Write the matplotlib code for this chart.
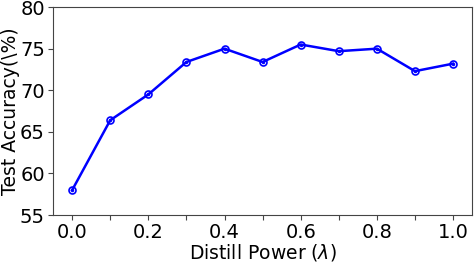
import matplotlib
matplotlib.use("Agg")
import matplotlib.pyplot as plt

distill_power = [0.0, 0.1, 0.2, 0.3, 0.4, 0.5, 0.6, 0.7, 0.8, 0.9, 1.0]
test_accuracy = [58.0, 66.4, 69.5, 73.4, 75.0, 73.4, 75.5, 74.7, 75.0, 72.3, 73.2]
xtick_pos = [0.0, 0.1, 0.2, 0.3, 0.4, 0.5, 0.6, 0.7, 0.8, 0.9, 1.0]
xtick_labels = ["0.0", "", "0.2", "", "0.4", "", "0.6", "", "0.8", "", "1.0"]
ytick_pos = [55, 60, 65, 70, 75, 80]

fig = plt.figure(figsize=(4.74, 2.62), dpi=100)
ax = fig.add_axes([0.112, 0.179, 0.884, 0.794])
ax.plot(distill_power, test_accuracy, color="blue", linewidth=1.8,
        marker="o", markersize=5, markerfacecolor="none", markeredgewidth=1.2)
ax.plot(distill_power, test_accuracy, linestyle="none", color="blue",
        marker=".", markersize=3)
ax.set_ylim(55, 80)
ax.set_yticks(ytick_pos)
ax.set_xticks(xtick_pos)
ax.set_xticklabels(xtick_labels)
for s in ax.spines.values():
    s.set_color("#444444")
ax.tick_params(labelsize=14, pad=2.5, length=3.5, color="#444444")
ax.set_xlabel(r"Distill Power ($\lambda$)", fontsize=13.5, labelpad=0)
ax.set_ylabel("Test Accuracy(\\%)", fontsize=13.5, labelpad=0)
fig.savefig("out.png", dpi=100)
